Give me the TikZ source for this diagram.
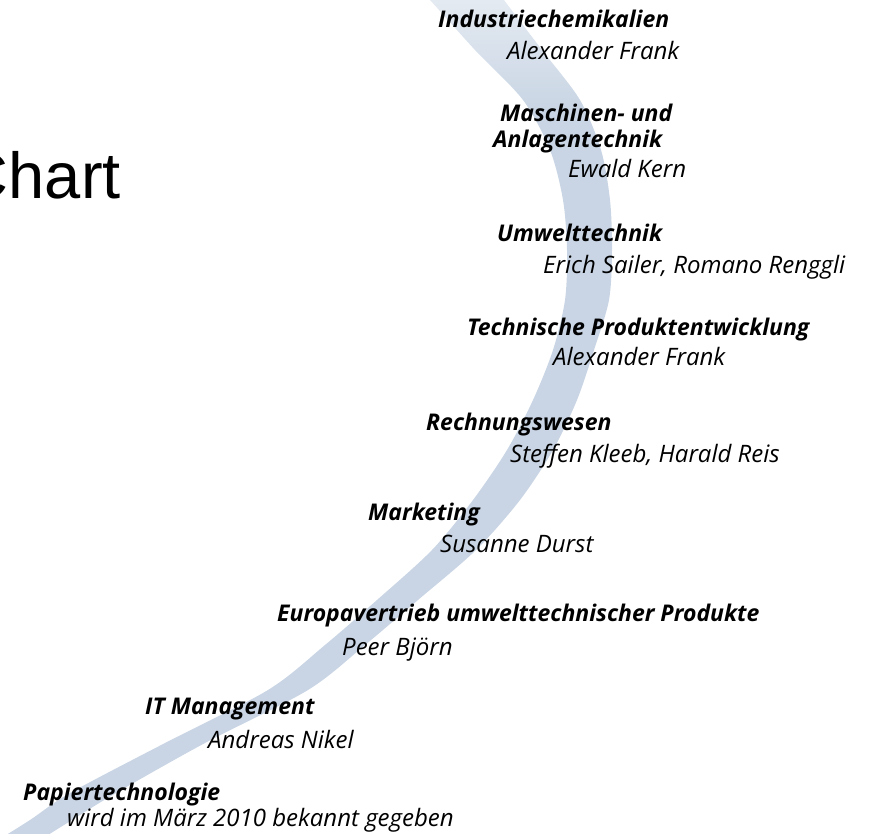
\documentclass[tikz,border=0pt]{standalone}
\usepackage{fontspec}
\setmainfont{Open Sans}
\newfontfamily\titlefont{Liberation Sans}
\definecolor{swoosh}{RGB}{201,213,228}

\begin{document}
\begin{tikzpicture}[x=1pt,y=-1pt]
  \tikzstyle{dept} = [anchor=base west, inner sep=0pt, font=\fontsize{23}{27}\selectfont\bfseries\itshape]
  \tikzstyle{person} = [anchor=base west, inner sep=0pt, font=\fontsize{24}{28}\selectfont\itshape]

  \useasboundingbox (0,0) rectangle (872,834);

  % the swoosh behind the list, paler at the top
  \begin{scope}
    \clip plot[smooth] coordinates {(420,-10) (430,0) (475,50) (523,100) (550,150) (563,200) (567,250) (565,300) (553,350) (533,400) (507,450) (473,500) (432,550) (377,600) (325,645) (268,690) (165,743) (70,793) (30,820) (-10,845)}
      -- plot[smooth] coordinates {(32,845) (72,820) (116,793) (205,743) (308,690) (365,645) (418,600) (476,550) (520,500) (553,450) (577,400) (594,350) (609,300) (612,250) (610,200) (601,150) (580,100) (542,50) (504,0) (498,-10)}
      -- cycle;
    \fill[swoosh] (0,110) rectangle (872,850);
    \shade[top color=swoosh!45, bottom color=swoosh] (0,-10) rectangle (872,110);
  \end{scope}

  \node[anchor=base east, inner sep=0pt, font=\titlefont\fontsize{65}{70}\selectfont] (title) at (121,199) {Chart};

  \node[dept] (ind) at (438,28) {Industriechemikalien};
  \node[person] (indp) at (507,60) {Alexander Frank};

  \node[dept] (masch) at (500,122) {Maschinen- und};
  \node[dept] (anl) at (493,148) {Anlagentechnik};
  \node[person] (maschp) at (568,178) {Ewald Kern};

  \node[dept] (umw) at (497,242) {Umwelttechnik};
  \node[person] (umwp) at (543,273) {Erich Sailer, Romano Renggli};

  \node[dept] (tech) at (467,335) {Technische Produktentwicklung};
  \node[person] (techp) at (553,365) {Alexander Frank};

  \node[dept] (rech) at (426,430) {Rechnungswesen};
  \node[person] (rechp) at (510,462) {Steffen Kleeb, Harald Reis};

  \node[dept] (mark) at (368,520) {Marketing};
  \node[person] (markp) at (440,552) {Susanne Durst};

  \node[dept] (euro) at (277,621) {Europavertrieb umwelttechnischer Produkte};
  \node[person] (europ) at (342,655) {Peer Björn};

  \node[dept] (it) at (145,714) {IT Management};
  \node[person] (itp) at (208,748) {Andreas Nikel};

  \node[dept] (pap) at (23,800) {Papiertechnologie};
  \node[person] (papp) at (67,826) {wird im März 2010 bekannt gegeben};
\end{tikzpicture}
\end{document}
